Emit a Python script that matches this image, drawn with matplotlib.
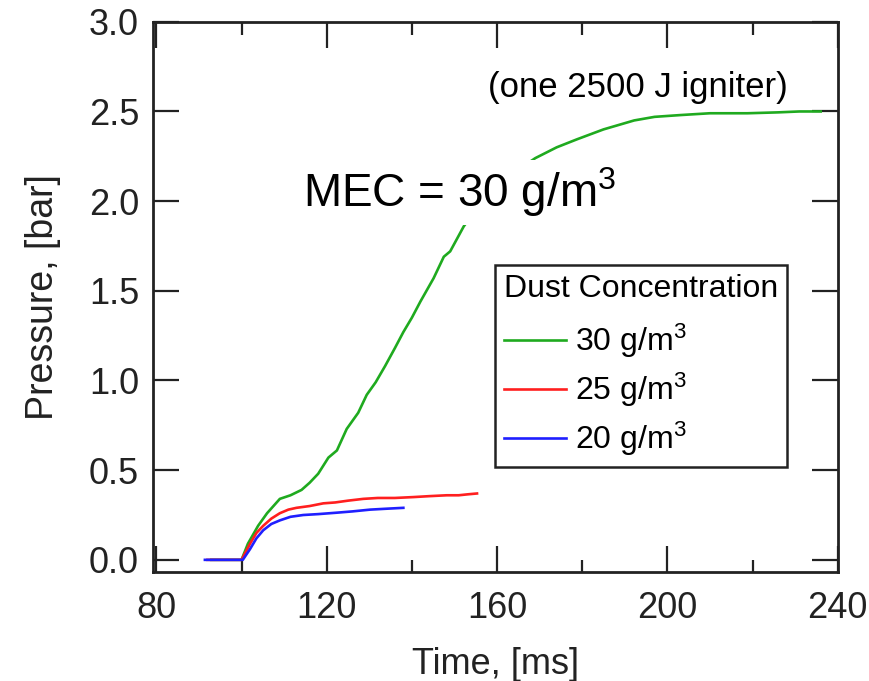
import matplotlib.pyplot as plt
from matplotlib.ticker import MultipleLocator

plt.rcParams['font.family'] = ['Liberation Sans', 'DejaVu Sans']
plt.rcParams['mathtext.fontset'] = 'custom'
plt.rcParams['mathtext.rm'] = 'Liberation Sans'
plt.rcParams['mathtext.it'] = 'Liberation Sans'

# pressure traces, time in ms, pressure in bar
t30 = [92.9, 96, 100, 101.5, 103.9, 106, 109.0, 111.5, 114.1, 116, 118.0, 120.4,
       122.4, 124.7, 127.4, 129.4, 131.5, 133.7, 136, 138.0, 140, 142.0, 145.1,
       147.5, 149.0, 152.2, 156, 160, 164, 169.0, 174, 178.8, 185, 192.2, 197,
       203.1, 210, 218.8, 226, 231, 236.0]
p30 = [0.0, 0.0, 0.0, 0.09, 0.19, 0.26, 0.34, 0.36, 0.39, 0.43, 0.48, 0.57,
       0.61, 0.73, 0.82, 0.92, 0.99, 1.08, 1.18, 1.27, 1.35, 1.44, 1.57,
       1.69, 1.72, 1.86, 1.98, 2.08, 2.16, 2.24, 2.30, 2.345, 2.40, 2.45, 2.47,
       2.48, 2.49, 2.49, 2.495, 2.50, 2.50]

t25 = [92.0, 96, 100, 102.0, 103.5, 105.1, 107, 109.0, 111, 112.9, 116, 119.2,
       122, 125, 128.6, 132, 136, 140.4, 144, 148.2, 151, 153, 155.3]
p25 = [0.0, 0.0, 0.0, 0.09, 0.15, 0.19, 0.23, 0.26, 0.28, 0.29, 0.30, 0.315,
       0.32, 0.33, 0.34, 0.345, 0.345, 0.35, 0.355, 0.36, 0.36, 0.365, 0.37]

t20 = [91.4, 96, 100.3, 102.0, 103.5, 105.1, 107, 109.0, 111.5, 114.5, 118,
       122.4, 126, 130.2, 134, 138.0]
p20 = [0.0, 0.0, 0.0, 0.06, 0.12, 0.165, 0.20, 0.22, 0.24, 0.25, 0.255,
       0.263, 0.27, 0.28, 0.285, 0.29]

series = [
    (t30, p30, '#1faa1f', '30 g/m$^3$'),
    (t25, p25, '#ff1f1f', '25 g/m$^3$'),
    (t20, p20, '#1f1fff', '20 g/m$^3$'),
]

fig = plt.figure(figsize=(8.69, 6.81), dpi=100)
ax = fig.add_axes([0.176, 0.160, 0.788, 0.808])

for t, p, c, lab in series:
    ax.plot(t, p, color=c, lw=1.9, label=lab)

ax.set_xlim(79.2, 240)
ax.set_ylim(-0.068, 3.0)
ax.xaxis.set_major_locator(MultipleLocator(40))
ax.xaxis.set_minor_locator(MultipleLocator(20))
ax.yaxis.set_major_locator(MultipleLocator(0.5))
ax.yaxis.set_major_formatter(plt.FormatStrFormatter('%.1f'))

ax.tick_params(which='both', direction='in', top=True, right=True,
               width=1.6, color='#222222', labelcolor='#222222')
ax.tick_params(which='major', length=19, labelsize=26)
ax.tick_params(which='minor', length=9)
ax.tick_params(axis='x', pad=14)
ax.tick_params(axis='y', pad=10)
for s in ax.spines.values():
    s.set_linewidth(2)
    s.set_color('#222222')

ax.set_xlabel('Time, [ms]', fontsize=26, color='#222222', labelpad=15)
ax.set_ylabel('Pressure, [bar]', fontsize=27, color='#222222', labelpad=20)

ax.text(114.5, 1.965, 'MEC = 30 g/m$^3$', fontsize=33, ha='left', va='baseline',
        bbox=dict(facecolor='white', edgecolor='none', pad=4), zorder=5)
ax.text(157.9, 2.635, '(one 2500 J igniter)', fontsize=25, ha='left', va='center')

leg = ax.legend(loc='upper left', bbox_to_anchor=(0.499, 0.558),
                title='Dust Concentration', title_fontsize=23, fontsize=23,
                fancybox=False, edgecolor='#222222', framealpha=1,
                handlelength=1.95, handletextpad=0.3, labelspacing=0.33,
                borderpad=0.28, borderaxespad=0, alignment='left')
leg.get_frame().set_linewidth(1.8)
# a little extra room between the title and the entries
leg._legend_box.sep = 13

fig.savefig('out.png', dpi=100)
